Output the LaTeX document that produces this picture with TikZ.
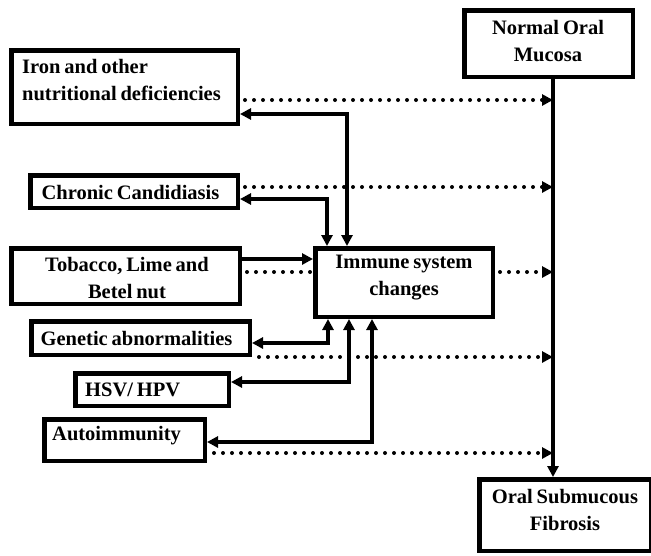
\documentclass[tikz,border=0pt]{standalone}
\usepackage{fontspec}
\setmainfont[WordSpace=0.75]{Liberation Serif}
\usetikzlibrary{arrows.meta,calc}
\begin{document}
\begin{tikzpicture}[x=1pt,y=-1pt,
  box/.style={draw=black,line width=4.5pt,rectangle,inner sep=0pt},
  txt/.style={inner sep=0pt,font=\bfseries\fontsize{20.5}{27}\selectfont},
  tip/.style={},
  solidarr/.style={line width=3.5pt,-{Triangle[length=11pt,width=11pt]}},
  bothsolid/.style={line width=3.5pt,{Triangle[length=11pt,width=11pt]}-{Triangle[length=11pt,width=11pt]}},
  dotarr/.style={line width=4pt,line cap=round,dash pattern=on 0pt off 9pt,-{Triangle[length=11pt,width=11pt]}},
  dotline/.style={line width=4pt,line cap=round,dash pattern=on 0pt off 9pt},
  mainline/.style={line width=4pt,-{Triangle[length=11pt,width=11pt]}}]
\useasboundingbox[fill=white] (0,0) rectangle (651,555);

% boxes (outer extents matched to the reference)
\node[box,minimum width=226.5pt,minimum height=73.5pt] (iron) at (124.5,87) {};
\node[box,minimum width=168.5pt,minimum height=66.5pt] (normal) at (548.5,43.5) {};
\node[box,minimum width=207.5pt,minimum height=32.5pt] (cand) at (134,191.5) {};
\node[box,minimum width=228.5pt,minimum height=55.5pt] (tob) at (125.5,276) {};
\node[box,minimum width=177.5pt,minimum height=68.5pt] (imm) at (404,282.5) {};
\node[box,minimum width=218.5pt,minimum height=33.5pt] (gen) at (140.5,338) {};
\node[box,minimum width=153.5pt,minimum height=32.5pt] (hsv) at (152,389.5) {};
\node[box,minimum width=160.5pt,minimum height=41.5pt] (auto) at (124.5,440) {};
\node[box,minimum width=171.5pt,minimum height=71.5pt] (osf) at (565,515) {};

% texts
\node[txt,align=left,anchor=west] (iront) at (22,80) {Iron and other\\nutritional deficiencies};
\node[txt,align=center] (normalt) at (548,41) {Normal Oral\\Mucosa};
\node[txt] (candt) at (130.5,192.5) {Chronic Candidiasis};
\node[txt,align=center] (tobt) at (127,278.5) {Tobacco, Lime and\\Betel nut};
\node[txt,align=center] (immt) at (404,278) {Immune system\\changes};
\node[txt] (gent) at (136.5,338) {Genetic abnormalities};
\node[txt,anchor=west] (hsvt) at (85,389.5) {HSV/ HPV};
\node[txt,anchor=west] (autot) at (52,436) {Autoimmunity};
\node[txt,align=center] (osft) at (565,510) {Oral Submucous\\Fibrosis};

\coordinate (mx) at (553,0);

% main vertical line
\draw[mainline] (normal.south -| mx) -- (osf.north -| mx);

% dotted arrows to the main line
\draw[dotarr,shorten <=5pt] (iron.east |- 0,100) -- (mx |- 0,100);
\draw[dotarr,shorten <=5pt] (cand.east |- 0,187) -- (mx |- 0,187);
\draw[dotline,shorten <=5pt,shorten >=3pt] (tob.east |- 0,272) -- (imm.west |- 0,272);
\draw[dotarr,shorten <=5pt] (imm.east |- 0,272) -- (mx |- 0,272);
\draw[dotarr,shorten <=7pt] (gen.east |- 0,357) -- (mx |- 0,357);
\draw[dotarr,shorten <=7pt] (auto.east |- 0,453) -- (mx |- 0,453);

% solid connectors
\draw[bothsolid] (imm.north -| 347,0) -- (347,114) -- (iron.east |- 0,114);
\draw[bothsolid] (imm.north -| 327,0) -- (327,199) -- (cand.east |- 0,199);
\draw[solidarr] (tob.east |- 0,259) -- (imm.west |- 0,259);
\draw[bothsolid] (imm.south -| 328,0) -- (328,343) -- (gen.east |- 0,343);
\draw[bothsolid] (imm.south -| 349,0) -- (349,382) -- (hsv.east |- 0,382);
\draw[bothsolid] (imm.south -| 372,0) -- (372,442) -- (auto.east |- 0,442);
\end{tikzpicture}
\end{document}
